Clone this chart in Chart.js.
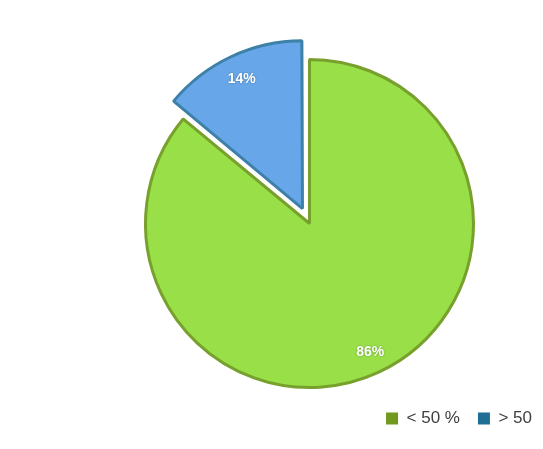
<!DOCTYPE html>
<html>
<head>
<meta charset="utf-8">
<script src="https://cdn.jsdelivr.net/npm/chart.js@4.4.0/dist/chart.umd.min.js"></script>
<style>
  html, body { margin: 0; padding: 0; background: #ffffff; }
  #wrap { width: 543px; height: 449px; }
</style>
</head>
<body>
<div id="wrap"><canvas id="grafico"></canvas></div>
<script>
const categorias = ["< 50 %", "> 50"];
const valores = [86, 14];
const rotulos = ["86%", "14%"];
const coresFatia = ["#98df48", "#67a6e8"];
const coresBorda = ["#78a02c", "#3d80a8"];
const coresLegenda = ["#6f9a1f", "#1f6f95"];
// o Chart.js v4 divide o offset por 4 ao desenhar
const deslocamento = [0, 66];

// escreve o percentual dentro de cada fatia
const rotuloFatias = {
  id: "rotuloFatias",
  afterDatasetsDraw(chart) {
    const ctx = chart.ctx;
    const meta = chart.getDatasetMeta(0);
    ctx.save();
    ctx.font = "bold 14px 'Liberation Sans', Arial, sans-serif";
    ctx.fillStyle = "#ffffff";
    ctx.textAlign = "center";
    ctx.textBaseline = "middle";
    ctx.shadowColor = "rgba(0,0,0,0.35)";
    ctx.shadowBlur = 2;
    meta.data.forEach((arco, i) => {
      const p = arco.getProps(["x", "y", "startAngle", "endAngle", "outerRadius"], true);
      const meio = (p.startAngle + p.endAngle) / 2;
      const r = p.outerRadius * 0.87 + (arco.options.offset || 0) / 4;
      ctx.fillText(rotulos[i], p.x + Math.cos(meio) * r, p.y + Math.sin(meio) * r);
    });
    ctx.restore();
  }
};

new Chart(document.getElementById("grafico"), {
  type: "pie",
  data: {
    labels: categorias,
    datasets: [
      {
        data: valores,
        backgroundColor: coresFatia,
        borderColor: coresBorda,
        borderWidth: 3,
        offset: deslocamento
      }
    ]
  },
  options: {
    responsive: true,
    maintainAspectRatio: false,
    animation: false,
    radius: 164,
    layout: {
      padding: { left: 76, right: -7, top: 55, bottom: 12 }
    },
    plugins: {
      tooltip: { enabled: false },
      legend: {
        display: true,
        position: "bottom",
        align: "end",
        labels: {
          boxWidth: 12,
          boxHeight: 12,
          padding: 18,
          color: "#404040",
          font: { family: "'Liberation Sans', Arial, sans-serif", size: 17 },
          generateLabels(chart) {
            return categorias.map((c, i) => ({
              text: c,
              fillStyle: coresLegenda[i],
              strokeStyle: coresLegenda[i],
              lineWidth: 0,
              fontColor: "#404040",
              index: i
            }));
          }
        }
      }
    }
  },
  plugins: [rotuloFatias]
});
</script>
</body>
</html>
